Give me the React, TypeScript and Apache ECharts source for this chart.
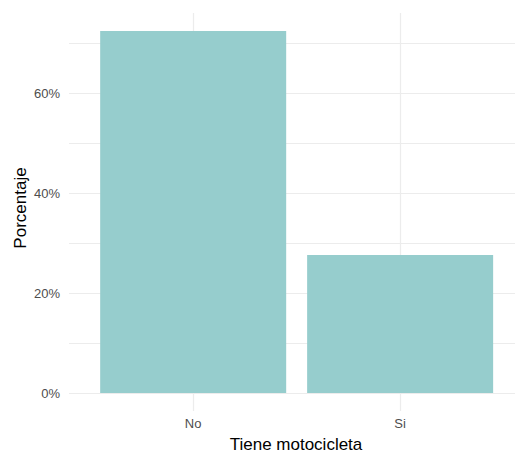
import React, { useEffect, useRef } from "react";
import * as echarts from "echarts";

const categories = ["No", "Si"];
const percentValues = [72.4, 27.6];
const yTickValues = [0, 20, 40, 60];
const xTitle = "Tiene motocicleta";
const yTitle = "Porcentaje";

export default function App() {
  const ref = useRef<HTMLDivElement>(null);
  useEffect(() => {
    if (!ref.current) return;
    const chart = echarts.init(ref.current, null, { renderer: "svg" });
    const font = "Liberation Sans, Arial, Helvetica, sans-serif";
    const grid = "#ececec";
    chart.setOption({
      animation: false,
      backgroundColor: "#ffffff",
      grid: { left: 69, right: 0, top: 13, bottom: 59, containLabel: false },
      xAxis: {
        type: "value",
        min: -0.6,
        max: 1.555,
        axisLine: { show: false },
        splitLine: { show: false },
        axisTick: {
          show: true,
          customValues: categories.map((_, i) => i),
          length: 18,
          lineStyle: { color: grid, width: 1.2 },
        },
        axisLabel: {
          customValues: categories.map((_, i) => i),
          formatter: (v: number) => categories[Math.round(v)] ?? "",
          color: "#4d4d4d",
          fontSize: 13,
          fontFamily: font,
          margin: 24,
        },
      },
      yAxis: {
        type: "value",
        min: 0,
        max: 76,
        interval: 10,
        axisLine: { show: false },
        axisTick: { show: false },
        splitLine: { show: true, showMaxLine: false, lineStyle: { color: grid, width: 1.2 } },
        axisLabel: {
          showMaxLabel: false,
          formatter: (v: number) => (yTickValues.includes(v) ? v + "%" : ""),
          color: "#4d4d4d",
          fontSize: 13,
          fontFamily: font,
          margin: 9,
        },
      },
      series: [
        {
          type: "bar",
          z: 2,
          data: percentValues.map((v, i) => [i, v]),
          barWidth: 186,
          itemStyle: { color: "#96CDCD" },
          markLine: {
            z: 1,
            silent: true,
            symbol: "none",
            label: { show: false },
            lineStyle: { color: grid, width: 1.2, type: "solid" },
            data: categories.map((_, i) => ({ xAxis: i })),
          },
        },
      ],
      graphic: [
        {
          type: "text",
          x: 296,
          y: 444,
          style: {
            text: xTitle,
            fontSize: 17,
            fontFamily: font,
            fill: "#000",
            textAlign: "center",
            textVerticalAlign: "middle",
          },
        },
        {
          type: "text",
          x: 20,
          y: 208,
          rotation: Math.PI / 2,
          style: {
            text: yTitle,
            fontSize: 17,
            fontFamily: font,
            fill: "#000",
            textAlign: "center",
            textVerticalAlign: "middle",
          },
        },
      ],
    });
    return () => chart.dispose();
  }, []);
  return <div ref={ref} style={{ width: 515, height: 452, position: "absolute", left: 0, top: 0 }} />;
}
